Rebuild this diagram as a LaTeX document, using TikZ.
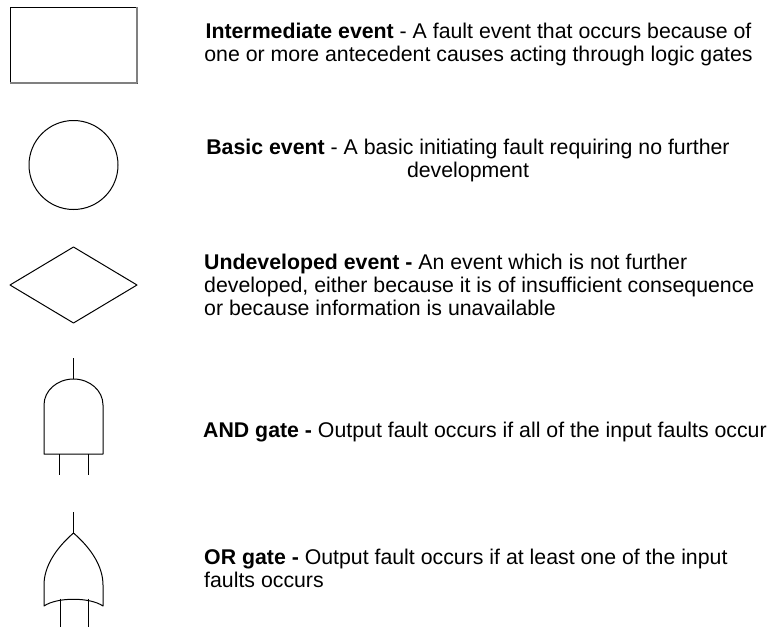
\documentclass[tikz,border=0pt]{standalone}
\usepackage{fontspec}
\setmainfont{Liberation Sans}
\usepackage{tikz}

\tikzset{
  desc/.style={inner sep=0pt,font=\fontsize{21.3}{23}\selectfont},
  sym/.style={line width=1pt,line join=round}
}

\begin{document}
\begin{tikzpicture}[x=1pt,y=-1pt]
      \useasboundingbox (0,0) rectangle (772,627);
      % intermediate event: box with a grey edge right and below
      \draw[sym] (10,7) rectangle (137,83);
      \draw[sym,gray,line width=1.5pt] (137,7) -- (137,83) -- (10,83);
      \draw (478.5,61) node[desc,anchor=base,align=center] (inter)
            {\textbf{Intermediate event} - A fault event that occurs because of\\
             one or more antecedent causes acting through logic gates};
      % basic event
      \draw[sym] (73.5,165) circle[radius=44.5];
      \draw (468,177) node[desc,anchor=base,align=center] (basic)
            {\textbf{Basic event} - A basic initiating fault requiring no further\\
             development};
      % undeveloped event
      \draw[sym] (10,285) -- (73.5,247) -- (137,285) -- (73.5,323) -- cycle;
      \draw (204,315) node[desc,anchor=base west,align=left] (undev)
            {\textbf{Undeveloped event -} An event which is not further\\
             developed, either because it is of insufficient consequence\\
             or because information is unavailable};
      % and gate
      \draw[sym] (73.5,358) -- (73.5,379);
      \draw[sym] (44,454) -- (44,405) .. controls (44,390.6) and (57.2,379) .. (73.5,379)
                 .. controls (89.8,379) and (103,390.6) .. (103,405) -- (103,454) -- cycle;
      \draw[sym] (59.5,454) -- (59.5,475);
      \draw[sym] (88.5,454) -- (88.5,475);
      \draw (203,437) node[desc,anchor=base west] (andtext)
            {\textbf{AND gate -} Output fault occurs if all of the input faults occur};
      % or gate
      \draw[sym] (73.5,512) -- (73.5,533);
      \draw[sym] (73.5,533) .. controls (54,550) and (44,568) .. (44,585) -- (44,606)
                 .. controls (57,597) and (90,597) .. (103,606) -- (103,585)
                 .. controls (103,568) and (93,550) .. cycle;
      \draw[sym] (60,598.5) -- (60,627);
      \draw[sym] (88.5,598.5) -- (88.5,627);
      \draw (204,587) node[desc,anchor=base west,align=left] (ortext)
            {\textbf{OR gate -} Output fault occurs if at least one of the input\\
             faults occurs};
\end{tikzpicture}
\end{document}
